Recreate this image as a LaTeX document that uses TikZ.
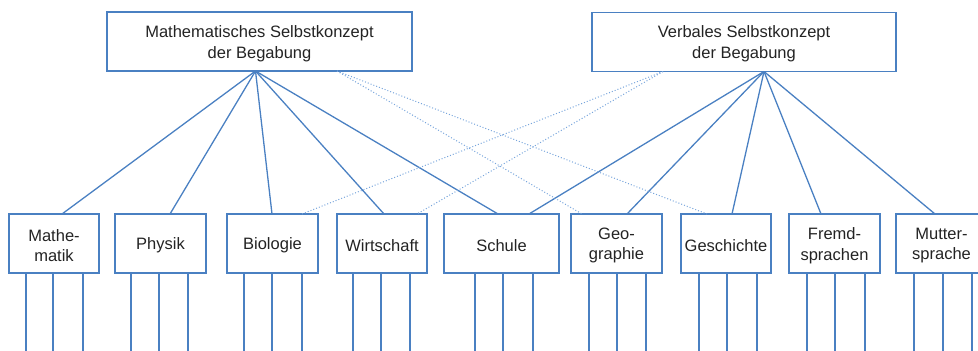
\documentclass[tikz,border=0pt]{standalone}
\usepackage{fontspec}
\setmainfont{Liberation Sans}
\definecolor{lineblue}{RGB}{74,128,194}
\definecolor{dotblue}{RGB}{120,165,220}
\definecolor{txt}{RGB}{35,35,35}
\begin{document}
\begin{tikzpicture}[x=1pt,y=-1pt,
  box/.style={draw=lineblue, line width=1.3pt, inner sep=0pt, outer sep=0pt,
    minimum height=59pt},
  sbox/.style={box, anchor=north west},
  lbl/.style={text=txt, align=center, font=\fontsize{16.5}{20.7}\selectfont,
    inner sep=0pt},
  conn/.style={draw=lineblue, line width=1.3pt},
  dotconn/.style={draw=dotblue, line width=1pt, dotted},
  leg/.style={draw=lineblue, line width=1.3pt}]
\useasboundingbox (0,0) rectangle (978,351);
% top boxes
\node[box, minimum width=305pt] (M) at (259.5,41.5) {};
\node[box, minimum width=304pt] (V) at (744,42) {};
% bottom boxes
\node[sbox, minimum width=90pt] (b1) at (9,214) {};
\node[sbox, minimum width=91pt] (b2) at (115,214) {};
\node[sbox, minimum width=91pt] (b3) at (227,214) {};
\node[sbox, minimum width=90pt] (b4) at (337,214) {};
\node[sbox, minimum width=115pt] (b5) at (444,214) {};
\node[sbox, minimum width=91pt] (b6) at (571,214) {};
\node[sbox, minimum width=90pt] (b7) at (681,214) {};
\node[sbox, minimum width=91pt] (b8) at (789,214) {};
\node[sbox, minimum width=91pt] (b9) at (896,214) {};
% labels
\node[lbl] (Mt) at ([yshift=-2pt]M.center) {Mathematisches Selbstkonzept\\der Begabung};
\node[lbl] (Vt) at ([yshift=-2pt]V.center) {Verbales Selbstkonzept\\der Begabung};
\node[lbl] (b1t) at ([yshift=-2pt]b1.center) {Mathe-\\matik};
\node[lbl] (b2t) at ([yshift=-2pt]b2.center) {Physik};
\node[lbl] (b3t) at ([yshift=-2pt]b3.center) {Biologie};
\node[lbl] (b4t) at ([yshift=-2pt]b4.center) {Wirtschaft};
\node[lbl] (b5t) at ([yshift=-2pt]b5.center) {Schule};
\node[lbl] (b6t) at ([yshift=-2pt]b6.center) {Geo-\\graphie};
\node[lbl] (b7t) at ([yshift=-2pt]b7.center) {Geschichte};
\node[lbl] (b8t) at ([yshift=-2pt]b8.center) {Fremd-\\sprachen};
\node[lbl] (b9t) at ([yshift=-2pt]b9.center) {Mutter-\\sprache};
% apex points
\coordinate (ma) at ([xshift=-4pt]M.south);
\coordinate (va) at ([xshift=20pt]V.south);
\coordinate (md) at ([xshift=77.5pt]M.south);
\coordinate (vd) at ([xshift=-81pt]V.south);
% solid connectors
\foreach \b/\o in {b1/53,b2/55,b3/45,b4/47,b5/54}
  \draw[conn] (ma) -- ([xshift=\o pt]\b.north west);
\foreach \b/\o in {b5/85,b6/56,b7/51,b8/32,b9/39}
  \draw[conn] (va) -- ([xshift=\o pt]\b.north west);
% dotted connectors
\foreach \b/\o in {b6/11,b7/26}
  \draw[dotconn] (md) -- ([xshift=\o pt]\b.north west);
\foreach \b/\o in {b3/75,b4/80}
  \draw[dotconn] (vd) -- ([xshift=\o pt]\b.north west);
% legs
\foreach \b/\p/\q/\r in {b1/17/44/74,b2/16/44/73,b3/17/45/75,b4/16/44/73,b5/31/59/89,b6/18/46/75,b7/18/46/76,b8/18/46/76,b9/18/47/76}{
  \coordinate (\b l1) at ([xshift=\p pt, yshift=-80pt]\b.south west);
  \coordinate (\b l2) at ([xshift=\q pt, yshift=-80pt]\b.south west);
  \coordinate (\b l3) at ([xshift=\r pt, yshift=-80pt]\b.south west);
  \draw[leg] ([xshift=\p pt]\b.south west) -- (\b l1);
  \draw[leg] ([xshift=\q pt]\b.south west) -- (\b l2);
  \draw[leg] ([xshift=\r pt]\b.south west) -- (\b l3);
}
\end{tikzpicture}
\end{document}
